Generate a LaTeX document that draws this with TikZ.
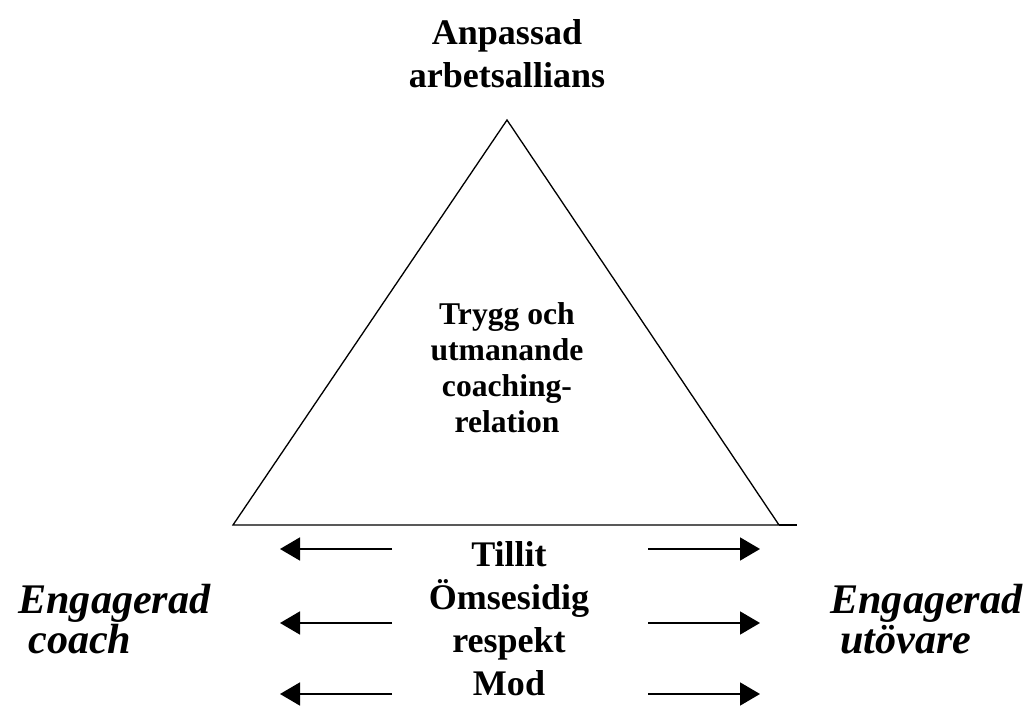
\documentclass[tikz,border=0pt]{standalone}
\usepackage{fontspec}
\setmainfont{Liberation Serif}
\usetikzlibrary{arrows.meta}

\tikzset{
	label text/.style={font=\fontsize{20.5}{24.5}\selectfont\bfseries, align=center, inner sep=0pt},
	inner text/.style={font=\fontsize{18}{20.5}\selectfont\bfseries, align=center, inner sep=0pt},
	side text/.style={font=\fontsize{24}{24.5}\selectfont\bfseries\itshape, align=left, inner sep=0pt, anchor=west},
	push/.style={line width=1pt, -{Triangle[length=0.4cm,width=0.46cm]}}
}

\begin{document}
\begin{tikzpicture}[scale=1]
	
	\useasboundingbox (0,0) rectangle (20.62,14.12);
	
	% triangle
	\coordinate (apex) at (10.14,11.72);
	\coordinate (baseL) at (4.66,3.62);
	\coordinate (baseR) at (15.58,3.62);
	\coordinate (baseX) at (15.94,3.62);
	\draw[line width=0.75pt, line join=miter] (baseL) -- (apex) -- (baseR) -- cycle;
	\draw[line width=0.6pt] (baseR) -- (baseX);
	
	% texts
	\node[label text] (alliance) at (10.14,13.04) {Anpassad\\arbetsallians};
	\node[inner text] (relation) at (10.14,6.76) {Trygg och\\utmanande\\coaching-\\relation};
	\node[label text] (values) at (10.18,1.74) {Tillit\\Ömsesidig\\respekt\\Mod};
	\node[side text] (coach) at (0.36,1.74) {Engagerad\\[-2pt]\hspace{0.2cm}coach};
	\node[side text] (athlete) at (16.6,1.74) {Engagerad\\[-2pt]\hspace{0.2cm}utövare};
	
	% arrows out from the middle
	\foreach \y [count=\i] in {3.14,1.66,0.24} {
		\coordinate (lt\i) at (7.84,\y);
		\coordinate (lh\i) at (5.6,\y);
		\coordinate (rt\i) at (12.96,\y);
		\coordinate (rh\i) at (15.2,\y);
		\draw[push] (lt\i) -- (lh\i);
		\draw[push] (rt\i) -- (rh\i);
	}
	
\end{tikzpicture}
\end{document}
